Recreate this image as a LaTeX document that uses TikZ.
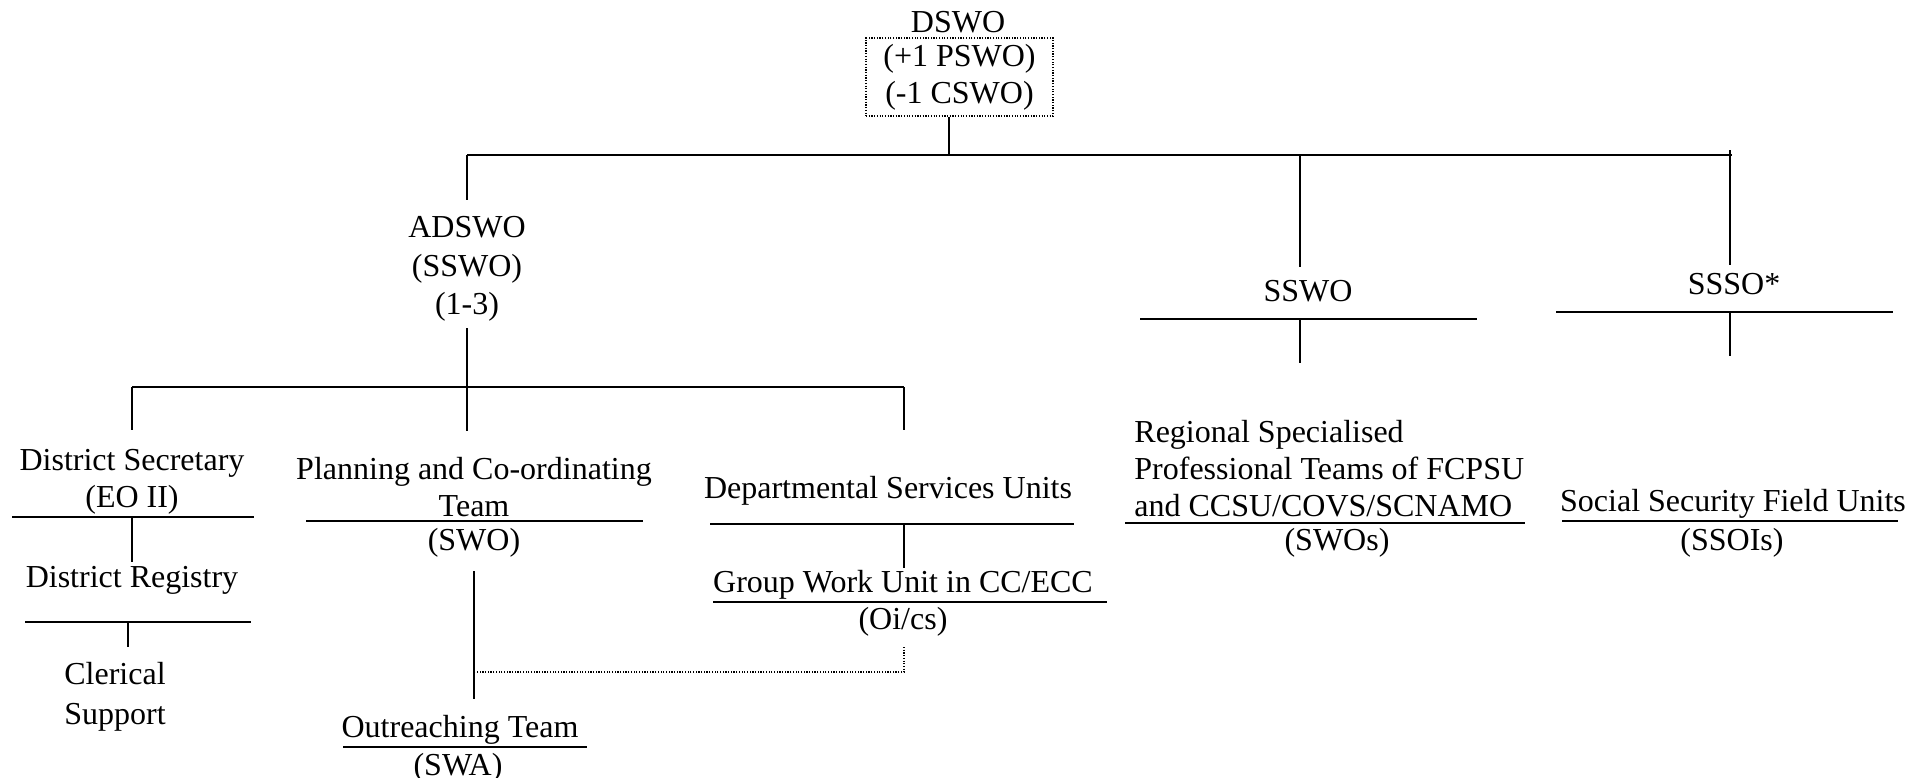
\documentclass[tikz,border=0pt]{standalone}
\usepackage{fontspec}
\setmainfont{Liberation Serif}
\begin{document}
\begin{tikzpicture}[x=0.5pt,y=-0.5pt,
  lbl/.style={font=\fontsize{16}{18.5}\selectfont, inner sep=0pt, align=center},
  link/.style={line width=0.75pt},
  rule/.style={line width=1pt},
  dotlink/.style={line width=0.6pt, dash pattern=on 0.6pt off 0.75pt}]
\useasboundingbox[fill=white] (0,0) rectangle (1926,777);

% ---- labels ----
\node[lbl] (dswo) at (958,22) {DSWO};
\node[lbl, draw, dotlink, minimum width=93.5pt, minimum height=39pt] (dswobox) at (959.5,77) {(+1 PSWO)\\(-1 CSWO)};
\node[lbl, font=\fontsize{16}{19.3}\selectfont] (adswo) at (467,269) {ADSWO\\(SSWO)\\(1-3)};
\node[lbl] (sswo) at (1308,291) {SSWO};
\node[lbl] (ssso) at (1734,284) {SSSO*};
\node[lbl] (distsec) at (132,482) {District Secretary\\(EO II)};
\node[lbl] (registry) at (132,580) {District Registry};
\node[lbl, font=\fontsize{16}{20}\selectfont] (clerical) at (115,697) {Clerical\\Support};
\node[lbl] (planning) at (474,487) {Planning and Co-ordinating\\Team};
\node[lbl] (swo) at (474,543) {(SWO)};
\node[lbl] (outreach) at (460,730) {Outreaching Team};
\node[lbl] (swa) at (458,768) {(SWA)};
\node[lbl] (dept) at (888,491) {Departmental Services Units};
\node[lbl] (groupwork) at (903,585) {Group Work Unit in CC/ECC};
\node[lbl] (oics) at (903,622) {(Oi/cs)};
\node[lbl, align=left, anchor=west] (regional) at (1134,469) {Regional Specialised\\Professional Teams of FCPSU\\and CCSU/COVS/SCNAMO};
\node[lbl] (swos) at (1337,543) {(SWOs)};
\node[lbl] (ssfield) at (1733,504) {Social Security Field Units};
\node[lbl] (ssois) at (1732,543) {(SSOIs)};

% ---- junction points ----
\coordinate (topdrop) at (949,155);
\coordinate (bus1w) at (467,155);
\coordinate (bus1e) at (1732,155);
\coordinate (adswoin) at (467,200);
\coordinate (sswotop) at (1300,155);
\coordinate (sswoin) at (1300,267);
\coordinate (sssotop) at (1730,150);
\coordinate (sssoin) at (1730,265);
\coordinate (adswoout) at (467,328);
\coordinate (bus2w) at (132,387);
\coordinate (bus2m) at (467,387);
\coordinate (bus2e) at (904,387);
\coordinate (distsecin) at (132,430);
\coordinate (planningin) at (467,431);
\coordinate (deptin) at (904,430);

% ---- upper level ----
\draw[link] (topdrop |- dswobox.south) -- (topdrop);
\draw[link] (bus1w) -- (bus1e);
\draw[link] (bus1w) -- (adswoin);
\draw[link] (sswotop) -- (sswoin);
\draw[link] (sssotop) -- (sssoin);

% SSWO branch
\draw[rule] (1140,319) coordinate (sswoul) -- (1477,319) coordinate (sswour);
\draw[link] (1300,319) coordinate (sswoj) -- (1300,363) coordinate (sswodown);
% SSSO branch
\draw[rule] (1556,312) coordinate (sssoul) -- (1893,312) coordinate (sssour);
\draw[link] (1730,312) coordinate (sssoj) -- (1730,356) coordinate (sssodown);

% ---- ADSWO branch ----
\draw[link] (adswoout) -- (bus2m);
\draw[link] (bus2w) -- (bus2e);
\draw[link] (bus2w) -- (distsecin);
\draw[link] (bus2m) -- (planningin);
\draw[link] (bus2e) -- (deptin);

% District Secretary chain
\draw[rule] (12,517) coordinate (dsul) -- (254,517) coordinate (dsur);
\draw[link] (132,517) coordinate (dsj) -- (132,562) coordinate (regin);
\draw[rule] (25,622) coordinate (regul) -- (251,622) coordinate (regur);
\draw[link] (128,622) coordinate (regj) -- (128,647) coordinate (clerin);

% Planning and Co-ordinating Team
\draw[rule] (306,521) coordinate (plul) -- (643,521) coordinate (plur);
\coordinate (swoout) at (474,571);
\coordinate (outin) at (474,699);
\draw[link] (swoout) -- (outin);
\draw[rule] (343,747) coordinate (otul) -- (587,747) coordinate (otur);

% Departmental Services Units
\draw[rule] (710,524) coordinate (dpul) -- (1074,524) coordinate (dpur);
\draw[link] (904,524) coordinate (dpj) -- (904,568) coordinate (gwin);
\draw[rule] (713,602) coordinate (gwul) -- (1107,602) coordinate (gwur);

% dotted link between group work and outreaching
\coordinate (oicsout) at (904,647);
\coordinate (dotcorner) at (904,672);
\coordinate (dotend) at (474,672);
\draw[dotlink] (oicsout) -- (dotcorner) -- (dotend);

% Regional and field units
\draw[rule] (1125,523) coordinate (rgul) -- (1525,523) coordinate (rgur);
\draw[rule] (1562,521) coordinate (sful) -- (1898,521) coordinate (sfur);
\end{tikzpicture}
\end{document}
